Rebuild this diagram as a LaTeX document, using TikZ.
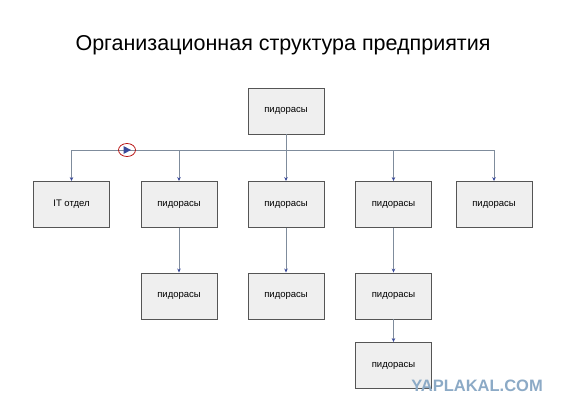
\documentclass[tikz,border=0pt]{standalone}
\usepackage{fontspec}
\setmainfont{Liberation Sans}
\usetikzlibrary{arrows.meta,shapes.geometric}
\definecolor{boxfill}{HTML}{EFEFEF}
\definecolor{boxline}{HTML}{555555}
\definecolor{connline}{HTML}{7F8C9C}
\definecolor{tipblue}{HTML}{3A4A9A}
\definecolor{wmblue}{HTML}{8CAAC6}
\tikzset{
	unit/.style={draw=boxline,fill=boxfill,line width=0.9pt,minimum width=76pt,minimum height=46pt,font=\fontsize{9.5}{11}\selectfont},
	conn/.style={draw=connline,line width=0.8pt,-{Stealth[length=4pt,width=3.5pt,color=tipblue]}}
}

\begin{document}
\begin{tikzpicture}[x=1pt,y=-1pt]
	  \useasboundingbox (0,0) rectangle (569,416);
	  \node[font=\fontsize{21.5}{24}\selectfont] (title) at (283,45) {Организационная структура предприятия};
	  \node[unit] (top) at (286,111) {пидорасы};
	  \node[unit] (it) at (71.5,204.5) {IT отдел};
	  \foreach \n/\x in {b/179,c/286,d/393.5,e/494}{
		\node[unit] (\n) at (\x,204.5) {пидорасы};
	  }
	  \node[unit] (b2) at (179,296) {пидорасы};
	  \node[unit] (c2) at (286,296) {пидорасы};
	  \node[unit] (d2) at (393.5,296) {пидорасы};
	  \node[unit] (d3) at (393.5,365.5) {пидорасы};

	  \coordinate (bus) at (286,150);
	  \draw[conn,-] (top.south) -- (bus);
	  \foreach \n in {it,b,c,d,e}{
		\draw[conn] (bus) -| (\n.north);
	  }
	  \draw[conn] (b) -- (b2);
	  \draw[conn] (c) -- (c2);
	  \draw[conn] (d) -- (d2);
	  \draw[conn] (d2) -- (d3);

	  % marker on the bus
	  \node[draw=red!70!black,line width=0.7pt,ellipse,inner sep=0pt,minimum width=17pt,minimum height=13pt] (mark) at (127,150) {};
	  \fill[tipblue] (123.5,146) -- (131,150) -- (123.5,154) -- cycle;

	  \node[font=\bfseries\fontsize{16.5}{18}\selectfont,text=wmblue,anchor=east,inner sep=0pt] (wm) at (543,386) {YAPLAKAL.COM};
\end{tikzpicture}
\end{document}
